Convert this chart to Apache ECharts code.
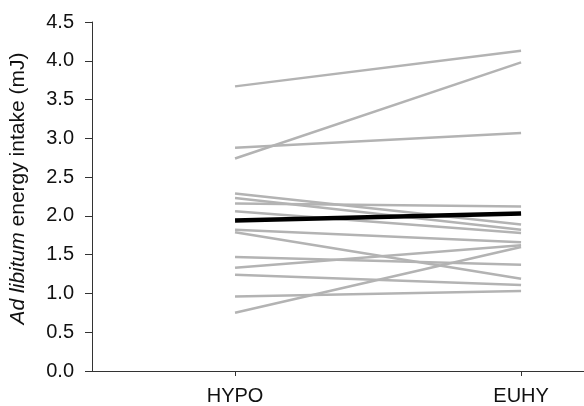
<!DOCTYPE html>
<html>
<head>
<meta charset="utf-8">
<script src="https://cdn.jsdelivr.net/npm/echarts@6/dist/echarts.min.js"></script>
<style>
  html, body { margin: 0; padding: 0; background: #fff; }
  #chart { width: 584px; height: 406px; }
</style>
</head>
<body>
<div id="chart"></div>
<script>
// conditions on the x axis
var categories = ['HYPO', 'EUHY'];
// each subject: intake in HYPO and EUHY (mJ)
var hypoValues = [3.67, 2.74, 2.88, 2.29, 2.23, 2.16, 2.06, 1.82, 1.79, 1.47, 1.33, 1.24, 0.96, 0.75];
var euhyValues = [4.13, 3.98, 3.07, 1.89, 1.82, 2.12, 1.78, 1.66, 1.19, 1.37, 1.62, 1.11, 1.03, 1.60];
// group mean
var meanValues = [1.94, 2.03];

var chart = echarts.init(document.getElementById('chart'));
var FONT = 'Liberation Sans, Arial, sans-serif';

var series = [];
for (var i = 0; i < hypoValues.length; i++) {
    series.push({
        type: 'line',
        data: [[1, hypoValues[i]], [2, euhyValues[i]]],
        symbol: 'none',
        silent: true,
        lineStyle: { color: '#b3b3b3', width: 2.5 }
    });
}
series.push({
    type: 'line',
    data: [[1, meanValues[0]], [2, meanValues[1]]],
    symbol: 'none',
    silent: true,
    z: 3,
    lineStyle: { color: '#000', width: 4.5 }
});

chart.setOption({
    animation: false,
    grid: { left: 90, right: 0, top: 22, bottom: 35 },
    xAxis: {
        type: 'value',
        min: 0.5,
        max: 2.22,
        splitLine: { show: false },
        axisLine: { lineStyle: { color: '#333', width: 1 } },
        axisTick: { customValues: [1, 2], length: 5, lineStyle: { color: '#333' } },
        axisLabel: {
            customValues: [1, 2],
            margin: 15,
            color: '#111',
            fontFamily: FONT,
            fontSize: 20,
            formatter: function (v) { return categories[Math.round(v) - 1]; }
        }
    },
    yAxis: {
        type: 'value',
        min: 0,
        max: 4.5,
        interval: 0.5,
        splitLine: { show: false },
        axisLine: { show: true, lineStyle: { color: '#333', width: 1 } },
        axisTick: { show: true, length: 7, lineStyle: { color: '#333' } },
        axisLabel: {
            margin: 18,
            color: '#111',
            fontFamily: FONT,
            fontSize: 20,
            formatter: function (v) { return v.toFixed(1); }
        },
        name: '{i|Ad libitum} energy intake (mJ)',
        nameLocation: 'middle',
        nameGap: 63,
        nameRotate: 90,
        nameTextStyle: {
            color: '#111',
            fontFamily: FONT,
            fontSize: 21,
            padding: [0, 0, 0, 16],
            rich: {
                i: { fontStyle: 'italic', fontFamily: FONT, fontSize: 21, color: '#111' }
            }
        }
    },
    series: series
});
</script>
</body>
</html>
